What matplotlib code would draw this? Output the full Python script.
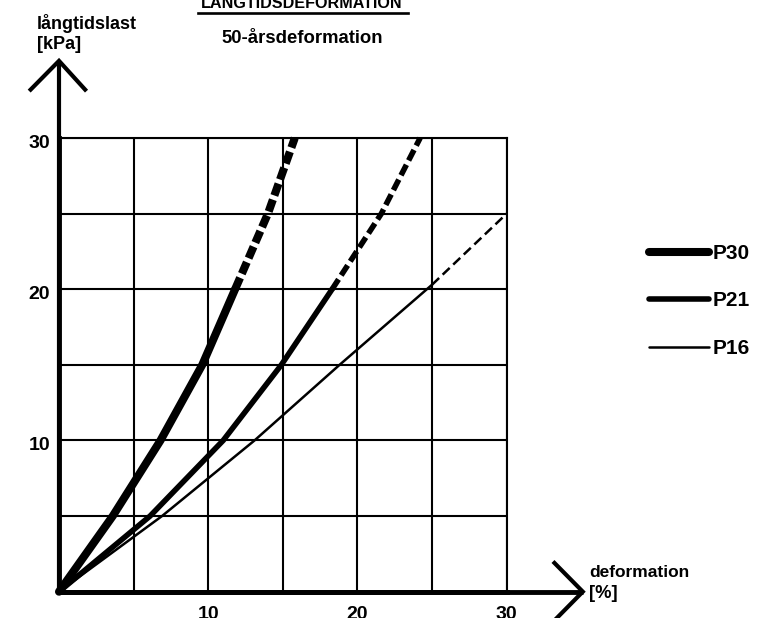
import matplotlib
matplotlib.use('Agg')
import matplotlib.pyplot as plt
from matplotlib.lines import Line2D

# ---------------- data ----------------
series_names = ['P30', 'P21', 'P16']

# solid parts: deformation [%] vs long-term load [kPa]
p30_def = [0, 3.6, 6.8, 9.6, 11.8]
p30_load = [0, 5, 10, 15, 20]
p21_def = [0, 6.1, 11.0, 14.9, 18.3]
p21_load = [0, 5, 10, 15, 20]
p16_def = [0, 6.9, 13.1, 18.8, 25.0]
p16_load = [0, 5, 10, 15, 20.3]

# dashed (extrapolated) parts
p30_def_ext = [11.8, 14.0, 15.8]
p30_load_ext = [20, 25, 30]
p21_def_ext = [18.3, 21.6, 24.2]
p21_load_ext = [20, 25, 30]
p16_def_ext = [25.0, 30.0]
p16_load_ext = [20.3, 25.0]

grid_ticks = [0, 5, 10, 15, 20, 25, 30]
x_tick_values = [10, 20, 30]
x_tick_labels = ['10', '20', '30']
y_tick_values = [10, 20, 30]
y_tick_labels = ['10', '20', '30']

title_top = 'LÅNGTIDSDEFORMATION'
title_sub = '50-årsdeformation'
y_label_1 = 'långtidslast'
y_label_2 = '[kPa]'
x_label_1 = 'deformation'
x_label_2 = '[%]'

# ---------------- style ----------------
plt.rcParams['font.family'] = ['Liberation Sans', 'DejaVu Sans']
plt.rcParams['font.weight'] = 'bold'
plt.rcParams['lines.scale_dashes'] = False
W, H = 757, 618
fig = plt.figure(figsize=(W / 100, H / 100), dpi=100)
fig.patch.set_facecolor('white')


def fx(x):
    return x / W


def fy(y):
    return 1 - y / H


ax = fig.add_axes([fx(59), fy(591.7), 447.7 / W, 453.7 / H])
ax.set_xlim(0, 30)
ax.set_ylim(0, 30)
ax.set_xticks(grid_ticks)
ax.set_yticks(grid_ticks)
ax.grid(True, color='black', lw=1.5)
ax.tick_params(length=0, labelbottom=False, labelleft=False)
for s in ['top', 'right']:
    ax.spines[s].set_linewidth(1.5)
for s in ['left', 'bottom']:
    ax.spines[s].set_linewidth(3.5)
ax.set_axisbelow(True)

# axis extensions with open arrow heads
ax.plot([0, 35.1], [0, 0], color='black', lw=3.5, clip_on=False, solid_capstyle='butt')
ax.plot([33.2, 35.1, 33.2], [1.9, 0, -1.9], color='black', lw=3.0, clip_on=False,
        solid_joinstyle='miter')
ax.plot([0, 0], [0, 35.1], color='black', lw=3.0, clip_on=False, solid_capstyle='butt')
ax.plot([-1.9, 0, 1.75], [33.2, 35.1, 33.2], color='black', lw=3.0, clip_on=False,
        solid_joinstyle='miter')

# curves
widths = [5.8, 4.0, 1.8]
dashes = [(9, 3.2), (8.5, 3.5), (7, 3.5)]
solid = [(p30_def, p30_load), (p21_def, p21_load), (p16_def, p16_load)]
ext = [(p30_def_ext, p30_load_ext), (p21_def_ext, p21_load_ext), (p16_def_ext, p16_load_ext)]
for (xs, ys), (xe, ye), lw, d in zip(solid, ext, widths, dashes):
    ax.plot(xs, ys, color='black', lw=lw, solid_capstyle='round', solid_joinstyle='round',
            clip_on=False, zorder=3)
    ax.plot(xe, ye, color='black', lw=lw, dashes=d, dash_capstyle='butt', clip_on=False,
            zorder=3)

# tick labels
for v, t in zip(y_tick_values, y_tick_labels):
    ax.annotate(t, xy=(0, v), xytext=(-6.5, -7.2), textcoords='offset points',
                ha='right', va='baseline', fontsize=14, annotation_clip=False)
for v, t in zip(x_tick_values, x_tick_labels):
    ax.annotate(t, xy=(v, 0), xytext=(0, -19.3), textcoords='offset points',
                ha='center', va='baseline', fontsize=14, annotation_clip=False)

# axis labels
fig.text(fx(37), fy(29), y_label_1, ha='left', va='baseline', fontsize=13)
fig.text(fx(37), fy(49), y_label_2, ha='left', va='baseline', fontsize=13)
fig.text(fx(589), fy(577), x_label_1, ha='left', va='baseline', fontsize=12.5)
fig.text(fx(589), fy(598), x_label_2, ha='left', va='baseline', fontsize=13.2)

# titles
fig.text(fx(302), fy(8.5), title_top, ha='center', va='baseline', fontsize=11.6)
fig.add_artist(Line2D([fx(198), fx(408)], [fy(13.3), fy(13.3)], color='black', lw=1.9))
fig.text(fx(302), fy(43), title_sub, ha='center', va='baseline', fontsize=13.3)

# legend
leg_y = [251.7, 299.0, 346.7]
for name, lw, y in zip(series_names, widths, leg_y):
    fig.add_artist(Line2D([fx(649), fx(709)], [fy(y), fy(y)], color='black', lw=lw,
                          solid_capstyle='round'))
    fig.text(fx(713), fy(y + 7.5), name, ha='left', va='baseline', fontsize=15)

fig.savefig('out.png', dpi=100, facecolor='white')
